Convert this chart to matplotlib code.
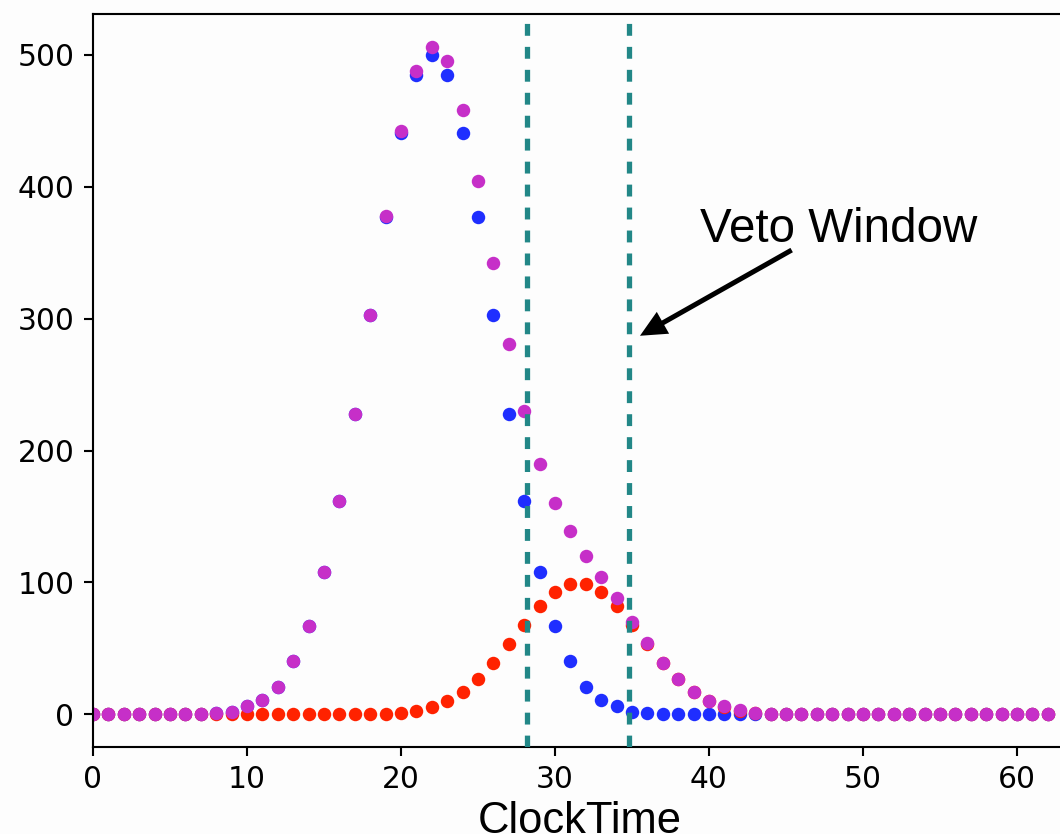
import matplotlib
matplotlib.use("Agg")
import matplotlib.pyplot as plt
import numpy as np

# Clock ticks 0..62
clock = np.arange(63)

blue_counts = [0, 0, 0, 0, 0, 0, 0, 0.4, 1, 2, 6, 11, 21, 40, 67, 108, 162, 228, 303, 377,
               441, 485, 500, 485, 441, 377, 303, 228, 162, 108, 67, 40, 21, 11, 6, 2, 1, 0.4,
               0, 0, 0, 0, 0, 0, 0, 0, 0, 0, 0, 0, 0, 0, 0, 0, 0, 0, 0, 0, 0, 0, 0, 0, 0]

red_counts = [0, 0, 0, 0, 0, 0, 0, 0, 0, 0, 0, 0, 0, 0, 0, 0, 0, 0, 0.2, 0.5,
              1.2, 2.5, 5.8, 10, 16.7, 26.5, 38.7, 53, 68, 82, 93, 99, 99, 93, 82, 68, 53, 38.7,
              26.7, 16.7, 10, 5.8, 2.8, 1.2, 0.4, 0, 0, 0, 0, 0, 0, 0, 0, 0, 0, 0, 0, 0, 0, 0, 0, 0, 0]

total_counts = [0, 0, 0, 0, 0, 0, 0, 0.4, 1, 2, 6, 11, 21, 40, 67, 108, 162, 228, 303, 378,
                442, 488, 506, 495, 458, 404, 342, 281, 230, 190, 160, 139, 120, 104, 88, 70, 54, 39,
                27, 17, 10, 6, 3, 1.2, 0.3, 0, 0, 0, 0, 0, 0, 0, 0, 0, 0, 0, 0, 0, 0, 0, 0, 0, 0]

veto_window = [28.2, 34.8]
x_ticks = [0, 10, 20, 30, 40, 50, 60]
y_ticks = [0, 100, 200, 300, 400, 500]

dpi = 190
fig = plt.figure(figsize=(1060 / dpi, 834 / dpi), dpi=dpi)
fig.patch.set_facecolor("#fdfdfd")
ax = fig.add_axes([0.0877, 0.1047, 0.9298, 0.8785])
ax.set_facecolor("#fdfdfd")

ax.scatter(clock, blue_counts, s=26, color="#1f2eff", linewidths=0, zorder=2)
ax.scatter(clock, red_counts, s=26, color="#ff2200", linewidths=0, zorder=2)
ax.scatter(clock, total_counts, s=26, color="#c62fc8", linewidths=0, zorder=2)

for xv in veto_window:
    ax.axvline(xv, color="#228787", lw=2, linestyle=(0, (2.25, 2.1)), zorder=3)

ax.set_xlim(0, 64)
ax.set_ylim(-24.6, 531)
ax.set_xticks(x_ticks)
ax.set_yticks(y_ticks)
ax.tick_params(labelsize=11.3)

ax.set_xlabel("ClockTime", fontsize=16.5, family=["Liberation Sans", "DejaVu Sans"])
ax.xaxis.set_label_coords(0.494, -0.074)

ax.annotate("", xy=(35.52, 287), xytext=(45.37, 352),
            arrowprops=dict(width=1.9, headwidth=9.5, headlength=10,
                            facecolor="black", edgecolor="black", lw=0, shrink=0),
            zorder=4)
ax.text(39.42, 358.4, "Veto Window", fontsize=18, ha="left", va="baseline",
        family=["Liberation Sans", "DejaVu Sans"])

fig.savefig("out.png", dpi=dpi, facecolor=fig.get_facecolor())
